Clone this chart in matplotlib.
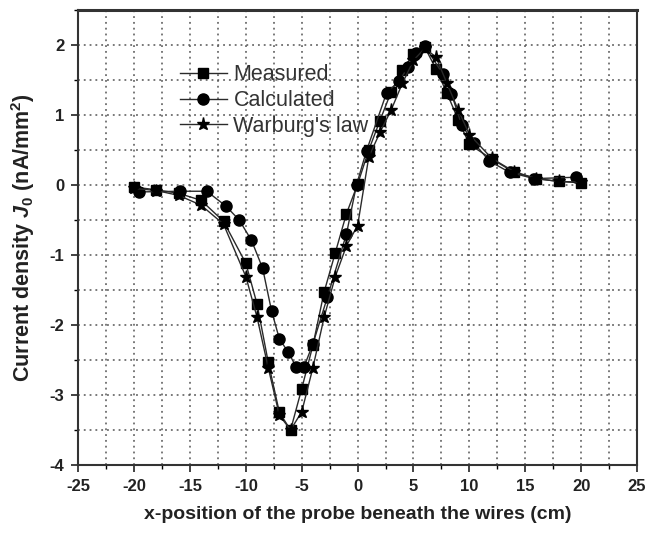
import matplotlib
matplotlib.use("Agg")
import matplotlib.pyplot as plt
from matplotlib.ticker import MultipleLocator

plt.rcParams['font.family'] = ['Liberation Sans', 'DejaVu Sans']
plt.rcParams['mathtext.fontset'] = 'custom'
plt.rcParams['mathtext.it'] = 'Liberation Sans:italic:bold'
plt.rcParams['mathtext.rm'] = 'Liberation Sans:bold'
plt.rcParams['axes.unicode_minus'] = False

# Measured (squares)
x_meas = [-20, -18, -16, -14, -12, -10, -9, -8, -7, -6, -5, -4, -3, -2, -1,
          0, 1, 2, 3, 4, 5, 6, 7, 8, 9, 10, 12, 14, 16, 18, 20]
y_meas = [-0.03, -0.07, -0.12, -0.22, -0.52, -1.12, -1.70, -2.53, -3.25, -3.50,
          -2.91, -2.29, -1.53, -0.97, -0.41, 0.01, 0.50, 0.92, 1.33, 1.64,
          1.87, 1.97, 1.66, 1.31, 0.93, 0.58, 0.37, 0.18, 0.09, 0.05, 0.03]

# Calculated (circles)
x_calc = [-19.6, -15.9, -13.5, -11.8, -10.6, -9.5, -8.5, -7.7, -7.0, -6.2,
          -5.5, -4.8, -4.0, -2.7, -1.0, -0.1, 0.8, 2.6, 3.7, 4.5, 5.2, 6.0,
          7.6, 8.4, 9.3, 10.4, 11.8, 13.6, 15.8, 19.5]
y_calc = [-0.10, -0.09, -0.09, -0.30, -0.50, -0.79, -1.19, -1.80, -2.20, -2.39,
          -2.60, -2.60, -2.27, -1.60, -0.70, 0.00, 0.49, 1.32, 1.48, 1.68,
          1.88, 1.99, 1.59, 1.30, 0.86, 0.60, 0.34, 0.18, 0.09, 0.11]

# Warburg's law (stars)
x_warb = [-20, -18, -16, -14, -12, -10, -9, -8, -7, -6, -5, -4, -3, -2, -1,
          0, 1, 2, 3, 4, 5, 6, 7, 8, 9, 10, 12, 14, 16, 18, 20]
y_warb = [-0.05, -0.08, -0.15, -0.29, -0.56, -1.31, -1.89, -2.61, -3.29, -3.50,
          -3.24, -2.61, -1.89, -1.31, -0.87, -0.58, 0.40, 0.75, 1.07, 1.45,
          1.78, 1.95, 1.83, 1.45, 1.07, 0.72, 0.38, 0.19, 0.09, 0.05, 0.04]

fig = plt.figure(figsize=(6.52, 5.36), dpi=100)
ax = fig.add_axes([0.12, 0.1325, 0.857, 0.849])

line_col = '#2a2a2a'
ax.plot(x_meas, y_meas, color=line_col, lw=1.0, marker='s', ms=7,
        mfc='black', mec='black', label='Measured', zorder=3)
ax.plot(x_calc, y_calc, color=line_col, lw=1.0, marker='o', ms=8,
        mfc='black', mec='black', label='Calculated', zorder=3)
ax.plot(x_warb, y_warb, color=line_col, lw=1.0, marker='*', ms=9.5,
        mfc='black', mec='black', label="Warburg's law", zorder=3)

ax.set_xlim(-25, 25)
ax.set_ylim(-4, 2.5)
ax.xaxis.set_major_locator(MultipleLocator(5))
ax.xaxis.set_minor_locator(MultipleLocator(2.5))
ax.yaxis.set_major_locator(MultipleLocator(1))
ax.yaxis.set_minor_locator(MultipleLocator(0.5))

ax.grid(True, which='both', color='#555555', linestyle=(0, (1.2, 2.6)), lw=1.1)
ax.set_axisbelow(True)

for s in ax.spines.values():
    s.set_linewidth(1.5)
    s.set_color('#333333')
ax.spines['top'].set_linewidth(2.2)

ax.tick_params(which='major', direction='out', length=5, width=1.2,
               labelsize=12, colors='#222222', pad=5)
ax.tick_params(which='minor', direction='out', length=3, width=1.0)
for lab in ax.get_xticklabels() + ax.get_yticklabels():
    lab.set_fontweight('bold')

ax.set_xlabel('x-position of the probe beneath the wires (cm)',
              fontsize=14, fontweight='bold', color='#222222', labelpad=9)
ax.set_ylabel(r'Current density $J_{\mathit{0}}$ (nA/mm$^{\mathrm{2}}$)',
              fontsize=15.5, fontweight='bold', color='#222222', labelpad=9)

leg = ax.legend(loc='upper left', bbox_to_anchor=(0.166, 0.899), frameon=False,
                fontsize=15.5, handlelength=2.2, handletextpad=0.3,
                labelspacing=0.22, borderaxespad=0)
for t in leg.get_texts():
    t.set_color('#333333')

fig.savefig('out.png', dpi=100)
